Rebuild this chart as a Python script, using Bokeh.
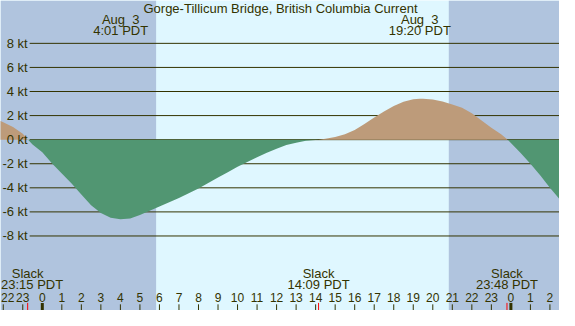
import numpy as np
from bokeh.plotting import figure
from bokeh.core.properties import value
from bokeh.embed import file_html
from bokeh.resources import INLINE

# ---- data ----
title = "Gorge-Tillicum Bridge, British Columbia Current"
hours = [-2.25, -2.0, -1.5, -1.0, -0.73, -0.5, 0.0, 0.5, 1.0, 1.5, 2.0, 2.5, 3.0, 3.5, 4.0,
         4.5, 5.0, 5.5, 6.0, 6.5, 7.0, 7.5, 8.0, 8.5, 9.0, 9.5, 10.0, 10.5, 11.0, 11.5,
         12.0, 12.5, 13.0, 13.5, 14.15, 14.5, 15.0, 15.5, 16.0, 16.5, 17.0, 17.5, 18.0,
         18.5, 19.0, 19.33, 19.5, 20.0, 20.5, 21.0, 21.5, 22.0, 22.5, 23.0, 23.5, 23.84,
         24.5, 25.0, 25.5, 26.0, 26.6]
knots = [1.63, 1.45, 1.05, 0.50, 0.0, -0.40, -1.05, -1.98, -2.80, -3.65, -4.55, -5.45, -6.10,
         -6.48, -6.62, -6.55, -6.25, -5.90, -5.55, -5.20, -4.85, -4.45, -4.05, -3.60, -3.15,
         -2.70, -2.25, -1.85, -1.45, -1.08, -0.75, -0.45, -0.25, -0.10, 0.0, 0.07, 0.22,
         0.45, 0.80, 1.30, 1.85, 2.35, 2.80, 3.15, 3.35, 3.40, 3.40, 3.33, 3.18, 2.93, 2.65,
         2.20, 1.60, 1.00, 0.45, 0.0, -1.10, -2.00, -2.95, -4.00, -5.15]
y_ticks = [8, 6, 4, 2, 0, -2, -4, -6, -8]
y_tick_labels = ["8 kt", "6 kt", "4 kt", "2 kt", "0 kt", "-2 kt", "-4 kt", "-6 kt", "-8 kt"]
hour_ticks = list(range(-2, 27))
hour_labels = [str(h % 24) for h in hour_ticks]
midnights = [0, 24]
slack_times = [-0.75, 14.15, 23.8]
slack_labels = ["23:15 PDT", "14:09 PDT", "23:48 PDT"]
peak_times = [4.017, 19.333]
peak_dates = ["Aug\u00a0\u00a03", "Aug\u00a0\u00a03"]
peak_labels = ["4:01 PDT", "19:20 PDT"]
sunrise = [5.83]
sunset = [20.82]

# ---- layout ----
W, H = 559, 310
RW, RH = 575, 326
X0, X1 = -2.141, 26.49
Y0, Y1 = -14.19, 11.56

def xd(px):
    return X0 + px * (X1 - X0) / RW

def yd(py):
    return Y1 - py * (Y1 - Y0) / RH

DAY = "#dff7ff"
NIGHT = "#b0c4de"
GREEN = "#519672"
TAN = "#bd9b7a"
INK = "#333300"
FONT = value("Liberation Sans")

p = figure(width=W, height=H, x_range=(X0, X1), y_range=(Y0, Y1),
           output_backend="svg", toolbar_location=None, min_border=0)
p.axis.visible = False
p.grid.visible = False
p.outline_line_color = None
p.background_fill_color = DAY
p.border_fill_color = DAY

# night shading
p.quad(left=[X0, sunset[0]], right=[sunrise[0], X1], bottom=Y0, top=Y1,
       fill_color=NIGHT, line_color=None)

# horizontal lines
p.segment(x0=xd(30), x1=X1, y0=y_ticks, y1=y_ticks, line_color=INK, line_width=1)

# current fill
t = np.array(hours)
v = np.array(knots)
p.varea(x=t, y1=np.zeros_like(v), y2=np.minimum(v, 0), fill_color=GREEN)
p.varea(x=t, y1=np.zeros_like(v), y2=np.maximum(v, 0), fill_color=TAN)


def put(xs, ys, texts, fs=13):
    """Centered texts; ones that would run off the left edge are left-aligned at it."""
    px_per_x = W / (X1 - X0)
    cx, cy, ct, lx, ly, lt = [], [], [], [], [], []
    for x, y, s in zip(xs, ys, texts):
        half = 0.28 * fs * len(s)
        if (x - X0) * px_per_x < half:
            lx.append(X0 + 0.5 / px_per_x); ly.append(y); lt.append(s)
        else:
            cx.append(x); cy.append(y); ct.append(s)
    if ct:
        p.text(x=cx, y=cy, text=ct, text_font=FONT, text_font_size=f"{fs}px", text_color=INK,
               text_align="center", text_baseline="middle")
    if lt:
        p.text(x=lx, y=ly, text=lt, text_font=FONT, text_font_size=f"{fs}px", text_color=INK,
               text_align="left", text_baseline="middle")


# y labels
p.text(x=[xd(28)] * len(y_ticks), y=y_ticks, text=y_tick_labels, text_font=FONT,
       text_font_size="13px", text_color=INK, text_align="right", text_baseline="middle")

# title
put([xd(288)], [yd(8)], [title])

# peak labels
put(peak_times, [yd(20)] * 2, peak_dates)
put(peak_times, [yd(32)] * 2, peak_labels)

# slack labels
put(slack_times, [yd(287)] * 3, ["Slack"] * 3)
put(slack_times, [yd(299)] * 3, slack_labels)

# hour labels and ticks
put(hour_ticks, [yd(312)] * len(hour_ticks), hour_labels, fs=12)
p.segment(x0=hour_ticks, x1=hour_ticks, y0=Y0, y1=yd(319.5), line_color=INK, line_width=1)
p.segment(x0=midnights, x1=midnights, y0=Y0, y1=yd(318), line_color=INK, line_width=3)
p.segment(x0=slack_times, x1=slack_times, y0=Y0, y1=yd(318), line_color="red", line_width=1)

open("out.html", "w").write(file_html(p, INLINE))
